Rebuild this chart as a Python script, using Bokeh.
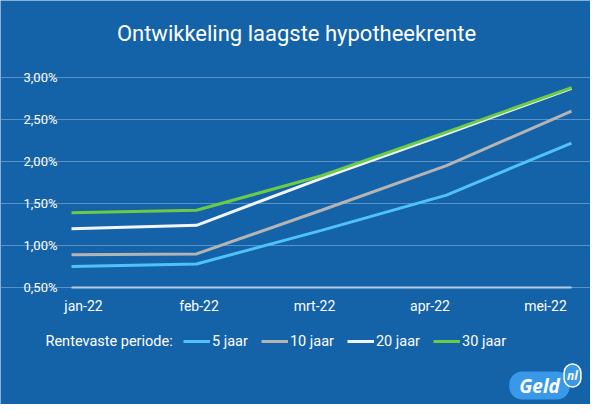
from bokeh.plotting import figure
from bokeh.models import (Range1d, FixedTicker, CustomJSTickFormatter, Label, Legend, LegendItem)
from bokeh.embed import file_html
from bokeh.resources import INLINE

months = ["jan-22", "feb-22", "mrt-22", "apr-22", "mei-22"]
series_names = ["5 jaar", "10 jaar", "20 jaar", "30 jaar"]
rate_5 = [0.75, 0.78, 1.18, 1.60, 2.22]
rate_10 = [0.89, 0.90, 1.42, 1.95, 2.60]
rate_20 = [1.20, 1.24, 1.80, 2.33, 2.87]
rate_30 = [1.39, 1.42, 1.83, 2.35, 2.88]
y_ticks = [0.5, 1.0, 1.5, 2.0, 2.5, 3.0]

BG = "#1462a8"
FONT = "Roboto"
W, H = 590, 404

# frame covers the whole canvas; plot area is x 0..4, y 0.5..3.0 inside it
p = figure(width=W, height=H, output_backend="svg", toolbar_location=None,
           x_range=Range1d(-0.568, 4.152), y_range=Range1d(-0.893, 3.917),
           min_border=0)
p.background_fill_color = BG
p.border_fill_color = BG
p.outline_line_color = None

xs = list(range(len(months)))
colors = ["#4fc3f7", "#b4b4b4", "#f2f6fa", "#6ccb45"]
renderers = []
for vals, col in zip([rate_5, rate_10, rate_20, rate_30], colors):
    r = p.line(xs, vals, line_color=col, line_width=3)
    renderers.append(r)

# grid
p.xgrid.grid_line_color = None
p.ygrid.ticker = FixedTicker(ticks=y_ticks)
p.ygrid.bounds = (0, len(months) - 1)
p.ygrid.grid_line_color = "#5a92c8"
p.ygrid.grid_line_width = 1

# y axis (drawn at x = 0)
p.yaxis.fixed_location = 0
p.yaxis.bounds = (0.5, 3.0)
p.yaxis.ticker = FixedTicker(ticks=y_ticks)
p.yaxis.formatter = CustomJSTickFormatter(code="return tick.toFixed(2).replace('.', ',') + '%';")
p.yaxis.axis_line_color = None
p.yaxis.major_tick_line_color = None
p.yaxis.minor_tick_line_color = None
p.yaxis.major_label_standoff = 8
p.yaxis.major_label_text_color = "white"
p.yaxis.major_label_text_font = FONT
p.yaxis.major_label_text_font_size = "13px"

# x axis (drawn at y = 0.5): labels spread evenly slightly inside the data span
label_pos = [0.096 + 0.924 * i for i in xs]
p.xaxis.fixed_location = 0.5
p.xaxis.bounds = (0, len(months) - 1)
p.xaxis.ticker = FixedTicker(ticks=label_pos)
p.xaxis.major_label_overrides = {lp: m for lp, m in zip(label_pos, months)}
p.xaxis.axis_line_color = "#b8cde3"
p.xaxis.axis_line_width = 2
p.xaxis.major_tick_line_color = None
p.xaxis.minor_tick_line_color = None
p.xaxis.major_label_standoff = 5
p.xaxis.major_label_text_color = "white"
p.xaxis.major_label_text_font = FONT
p.xaxis.major_label_text_font_size = "14px"

# title
p.add_layout(Label(x=296, y=H - 33, x_units="screen", y_units="screen",
                   text="Ontwikkeling laagste hypotheekrente", text_align="center",
                   text_baseline="middle", text_color="white", text_font=FONT,
                   text_font_size="22px"))

# legend
p.add_layout(Label(x=45, y=H - 341, x_units="screen", y_units="screen",
                   text="Rentevaste periode:", text_align="left", text_baseline="middle",
                   text_color="white", text_font=FONT, text_font_size="14.5px"))
legend = Legend(items=[LegendItem(label=n, renderers=[r]) for n, r in zip(series_names, renderers)],
                orientation="horizontal", location=(183, H - 350),
                background_fill_alpha=0, border_line_color=None,
                padding=0, margin=0, spacing=13, label_standoff=2,
                glyph_width=27, glyph_height=18,
                label_text_color="white", label_text_font=FONT, label_text_font_size="14.5px")
p.add_layout(legend, "center")

# logo
p.add_layout(Label(x=539, y=H - 385, x_units="screen", y_units="screen", text="Geld",
                   text_align="center", text_baseline="middle", text_color="white",
                   text_font="Open Sans", text_font_style="bold italic", text_font_size="19px",
                   background_fill_color="#3a98e8", padding=(10, 1), border_radius=13))
p.add_layout(Label(x=572, y=H - 375, x_units="screen", y_units="screen", text="nl",
                   text_align="center", text_baseline="middle", text_color="white",
                   text_font="Open Sans", text_font_style="bold italic", text_font_size="12px",
                   background_fill_color="#3a98e8", border_line_color="white",
                   border_line_width=1.5, padding=3, border_radius=11))

open("out.html", "w").write(file_html(p, INLINE))
